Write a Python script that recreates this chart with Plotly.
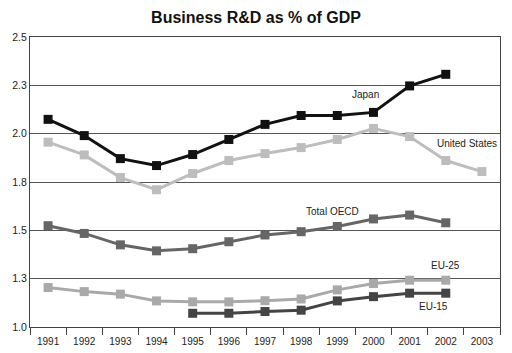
import plotly.graph_objects as go

years = [str(y) for y in range(1991, 2004)]
japan = [2.074, 1.99, 1.871, 1.835, 1.892, 1.97, 2.048, 2.094, 2.094, 2.11, 2.247, 2.307, None]
us = [1.956, 1.89, 1.773, 1.71, 1.794, 1.861, 1.897, 1.928, 1.97, 2.027, 1.985, 1.861, 1.804]
oecd = [1.524, 1.484, 1.425, 1.394, 1.405, 1.441, 1.476, 1.493, 1.52, 1.559, 1.579, 1.539, None]
eu25 = [1.204, 1.183, 1.17, 1.135, 1.13, 1.13, 1.136, 1.145, 1.192, 1.225, 1.242, 1.242, None]
eu15 = [None, None, None, None, 1.071, 1.071, 1.08, 1.087, 1.135, 1.157, 1.175, 1.175, None]

y_tickvals = [1.0, 1.25, 1.5, 1.75, 2.0, 2.25, 2.5]
y_ticktext = ["1.0", "1.3", "1.5", "1.8", "2.0", "2.3", "2.5"]

series = [
    ("Japan", japan, "#111111"),
    ("United States", us, "#bdbdbd"),
    ("Total OECD", oecd, "#666666"),
    ("EU-25", eu25, "#a9a9a9"),
    ("EU-15", eu15, "#444444"),
]

fig = go.Figure()
for name, vals, col in series:
    fig.add_trace(go.Scatter(
        x=years, y=vals, mode="lines+markers", name=name,
        line=dict(color=col, width=3),
        marker=dict(symbol="square", size=9, color=col),
        connectgaps=False,
    ))

# label text, category index, value position
labels = [
    ("Japan", 8.77, 2.203),
    ("United States", 11.59, 1.949),
    ("Total OECD", 7.88, 1.596),
    ("EU-25", 10.98, 1.316),
    ("EU-15", 10.65, 1.104),
]
for txt, xv, yv in labels:
    fig.add_annotation(x=xv, y=yv, xref="x", yref="y", text=txt, showarrow=False,
                       xanchor="center", yanchor="middle",
                       font=dict(size=10, color="#222222", family="Liberation Sans, Arial"))

fig.update_layout(
    width=512, height=353,
    margin=dict(l=30, r=12, t=37, b=26),
    paper_bgcolor="white", plot_bgcolor="white",
    showlegend=False,
    title=dict(text="<b>Business R&D as % of GDP</b>", x=0.5, xanchor="center",
               y=0.952, yanchor="middle",
               font=dict(size=16, color="#111111", family="Liberation Sans, Arial")),
    font=dict(family="Liberation Sans, Arial", size=10, color="#222222"),
)
fig.update_xaxes(
    type="category", tickson="boundaries", ticks="outside", ticklen=7,
    tickcolor="#444444", showline=True, linecolor="#444444", linewidth=1,
    mirror=True, showgrid=False, tickfont=dict(size=10), range=[-0.5, 12.5],
    ticklabelstandoff=5, automargin=False,
)
fig.update_yaxes(
    range=[1.0, 2.5], tickvals=y_tickvals, ticktext=y_ticktext,
    showgrid=True, gridcolor="#555555", gridwidth=1,
    showline=True, linecolor="#444444", linewidth=1, mirror=True,
    ticks="", tickfont=dict(size=10.5), zeroline=False, automargin=False,
)

fig.write_html("out.html")
